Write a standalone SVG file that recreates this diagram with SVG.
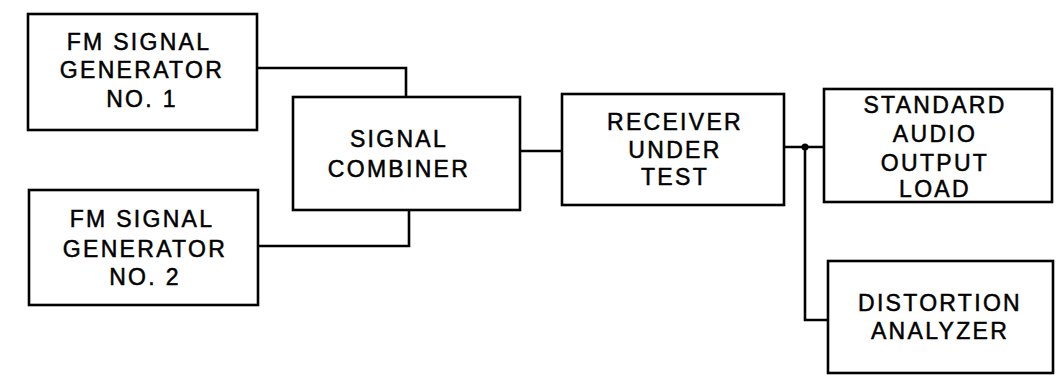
<svg xmlns="http://www.w3.org/2000/svg" width="1056" height="376" viewBox="0 0 1056 376">
<style>
.box{fill:#fff;stroke:#000;stroke-width:2.6}
.wire{fill:none;stroke:#000;stroke-width:2.6}
text{font-family:"Liberation Sans",Arial,sans-serif;font-size:23px;fill:#000;stroke:#000;stroke-width:0.5;text-anchor:middle;letter-spacing:2.3px}
</style>
<rect width="1056" height="376" fill="#fff"/>
<g id="connectors">
<polyline class="wire" points="257,68 406,68 406,97"/>
<polyline class="wire" points="258,246 409,246 409,210"/>
<line class="wire" x1="520" y1="151" x2="562" y2="151"/>
<line class="wire" x1="784" y1="147" x2="824" y2="147"/>
<polyline class="wire" points="805,147 805,320 828,320"/>
<circle cx="805" cy="147" r="3.5" fill="#000"/>
</g>
<g id="gen1">
<rect class="box" x="28" y="14" width="229" height="116"/>
<text x="139" y="50">FM SIGNAL</text>
<text x="142" y="78">GENERATOR</text>
<text x="142" y="107">NO. 1</text>
</g>
<g id="gen2">
<rect class="box" x="29" y="190" width="229" height="115"/>
<text x="142" y="227">FM SIGNAL</text>
<text x="145" y="257">GENERATOR</text>
<text x="145" y="285">NO. 2</text>
</g>
<g id="combiner">
<rect class="box" x="293" y="97" width="227" height="113"/>
<text x="399" y="147">SIGNAL</text>
<text x="399" y="177">COMBINER</text>
</g>
<g id="receiver">
<rect class="box" x="562" y="94" width="222" height="111"/>
<text x="675" y="130">RECEIVER</text>
<text x="675" y="158">UNDER</text>
<text x="675" y="185">TEST</text>
</g>
<g id="load">
<rect class="box" x="824" y="89" width="228" height="113"/>
<text x="935" y="113">STANDARD</text>
<text x="935" y="142">AUDIO</text>
<text x="935" y="171">OUTPUT</text>
<text x="935" y="197">LOAD</text>
</g>
<g id="analyzer">
<rect class="box" x="828" y="261" width="225" height="112"/>
<text x="940" y="311">DISTORTION</text>
<text x="940" y="339">ANALYZER</text>
</g>
</svg>
